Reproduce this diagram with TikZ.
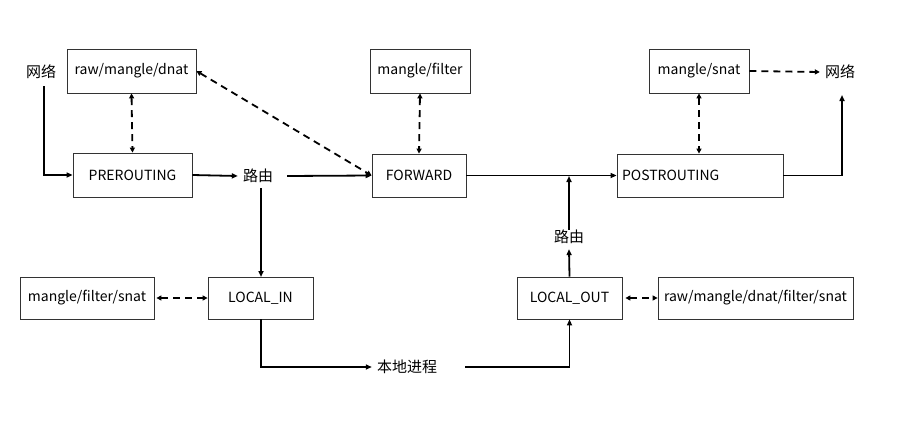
\documentclass[tikz,border=0pt]{standalone}
\usepackage{fontspec}
\setmainfont{Noto Sans CJK SC}
\usetikzlibrary{arrows.meta}
\begin{document}
\begin{tikzpicture}[x=1pt,y=-1pt,
  box/.style={draw=black!80,line width=0.8pt,inner sep=0pt,font=\fontsize{14}{16}\selectfont},
  lbl/.style={inner sep=5pt,font=\fontsize{15}{17}\selectfont},
  flow/.style={line width=1.8pt,-{Triangle[length=6pt,width=5pt]}},
  dflow/.style={line width=1.8pt,dash pattern=on 7pt off 5pt,{Triangle[length=5pt,width=5pt]}-{Triangle[length=5pt,width=5pt]}},
  dflowone/.style={line width=1.8pt,dash pattern=on 7pt off 5pt,-{Triangle[length=5pt,width=5pt]}}]
\useasboundingbox (0,0) rectangle (904,444);
% boxes
\node[box,minimum width=129pt,minimum height=44pt] (rmd) at (131.5,71) {raw/mangle/dnat};
\node[box,minimum width=119pt,minimum height=44pt] (pre) at (132.5,175) {PREROUTING};
\node[box,minimum width=100pt,minimum height=44pt] (mf) at (420,71) {mangle/filter};
\node[box,minimum width=94pt,minimum height=43pt] (fwd) at (419,175.5) {FORWARD};
\node[box,minimum width=100pt,minimum height=44pt] (ms) at (699,71) {mangle/snat};
\node[box,minimum width=166pt,minimum height=43pt,text width=156pt,align=left] (post) at (700,175.5) {POSTROUTING};
\node[box,minimum width=134pt,minimum height=42pt] (mfs) at (87,298) {mangle/filter/snat};
\node[box,minimum width=105pt,minimum height=42pt] (lin) at (260.5,298) {LOCAL\_IN};
\node[box,minimum width=105pt,minimum height=42pt] (lout) at (569.5,298) {LOCAL\_OUT};
\node[box,minimum width=195pt,minimum height=42pt] (all) at (755.5,298) {raw/mangle/dnat/filter/snat};
% labels
\node[lbl] (netL) at (41,72) {网络};
\node[lbl] (netR) at (840,72) {网络};
\node[lbl] (r1) at (258,176) {路由};
\node[lbl] (r2) at (569,237) {路由};
\node[lbl] (proc) at (407,367) {本地进程};
% coordinates
\coordinate (j) at (569,176);
% connectors
\draw[flow] (44,86) |- (pre.west);
\draw[flow] (pre.east) -- (r1.west);
\draw[flow] (r1.east) ++(9pt,0) -- (fwd.west);
\draw[flow] (r1.south) ++(3pt,0) -- (261,277);
\draw[flow] (261,319) |- (proc.west);
\draw[flow] (proc.east) ++(23pt,0) -| (lout.south);
\draw[flow] (lout.north) -- (r2.south);
\draw[flow] (r2.north) ++(0,-5pt) -- (j);
\draw[flow] (fwd.east) -- (post.west);
\draw[flow] (post.east) -| (842,95);
\draw[dflow] (rmd.south) -- (pre.north);
\draw[dflow] (mf.south) -- (fwd.north);
\draw[dflow] (ms.south) -- (ms.south |- post.north);
\draw[dflow] (rmd.east) -- (fwd.west);
\draw[dflowone] (ms.east) -- (netR.west);
\draw[dflow] (mfs.east) ++(2pt,0) -- (lin.west);
\draw[dflow] (lout.east) ++(3pt,0) -- (all.west);
\end{tikzpicture}
\end{document}
